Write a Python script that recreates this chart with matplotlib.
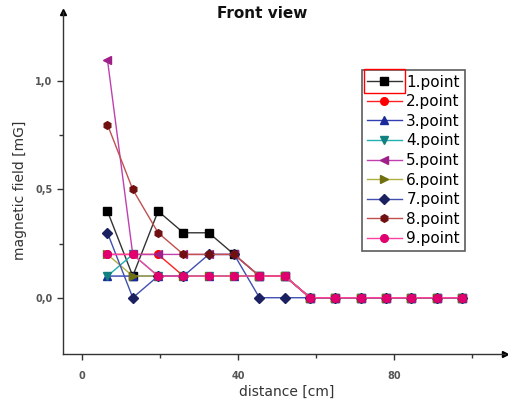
import matplotlib
matplotlib.use("Agg")
import matplotlib.pyplot as plt
from matplotlib.patches import Rectangle

distance = [6.5, 13, 19.5, 26, 32.5, 39, 45.5, 52, 58.5, 65, 71.5, 78, 84.5, 91, 97.5]
labels = ["1.point", "2.point", "3.point", "4.point", "5.point",
          "6.point", "7.point", "8.point", "9.point"]
p1 = [0.4, 0.1, 0.4, 0.3, 0.3, 0.2, 0.1, 0.1, 0, 0, 0, 0, 0, 0, 0]
p2 = [0.2, 0.2, 0.2, 0.1, 0.1, 0.1, 0.1, 0.1, 0, 0, 0, 0, 0, 0, 0]
p3 = [0.1, 0.1, 0.1, 0.1, 0.1, 0.1, 0.1, 0.1, 0, 0, 0, 0, 0, 0, 0]
p4 = [0.1, 0.2, 0.1, 0.1, 0.1, 0.1, 0.1, 0.1, 0, 0, 0, 0, 0, 0, 0]
p5 = [1.1, 0.2, 0.2, 0.2, 0.2, 0.2, 0.1, 0.1, 0, 0, 0, 0, 0, 0, 0]
p6 = [0.2, 0.1, 0.1, 0.1, 0.1, 0.1, 0.1, 0.1, 0, 0, 0, 0, 0, 0, 0]
p7 = [0.3, 0.0, 0.1, 0.1, 0.2, 0.2, 0, 0, 0, 0, 0, 0, 0, 0, 0]
p8 = [0.8, 0.5, 0.3, 0.2, 0.2, 0.2, 0.1, 0.1, 0, 0, 0, 0, 0, 0, 0]
p9 = [0.2, 0.2, 0.1, 0.1, 0.1, 0.1, 0.1, 0.1, 0, 0, 0, 0, 0, 0, 0]
series = [p1, p2, p3, p4, p5, p6, p7, p8, p9]

line_colors = ["#333333", "#ff2020", "#3040b0", "#20b0b0", "#c040b0",
               "#b0b040", "#4050b0", "#c05050", "#ff40a0"]
marker_colors = ["#000000", "#ff0000", "#1a2a9a", "#108080", "#a0208a",
                 "#707010", "#1a2060", "#701010", "#e0006e"]
markers = ["s", "o", "^", "v", "<", ">", "D", "h", "o"]

fig = plt.figure(figsize=(5.08, 4.04), dpi=100)
ax = fig.add_axes([63/508, 1-354/404, (505-63)/508, (354-12)/404])

for vals, lab, lc, mc, mk in zip(series, labels, line_colors, marker_colors, markers):
    ms = 5.5 if mk != "D" else 4.7
    ax.plot(distance, vals, color=lc, lw=1.0, marker=mk, markersize=ms,
            markerfacecolor=mc, markeredgecolor=mc, label=lab)

ax.set_xlim(-4.9, 108.5)
ax.set_ylim(-0.26, 1.32)
ax.spines["top"].set_visible(False)
ax.spines["right"].set_visible(False)
for s in ("left", "bottom"):
    ax.spines[s].set_color("#333333")
    ax.spines[s].set_linewidth(1.0)

ax.plot([0], [1], marker="^", color="black", markersize=5, transform=ax.transAxes, clip_on=False)
ax.plot([1], [0], marker=">", color="black", markersize=5, transform=ax.transAxes, clip_on=False)

ax.set_xticks([0, 40, 80])
ax.set_xticks([20, 60, 100], minor=True)
ax.set_yticks([0.0, 0.5, 1.0])
ax.set_yticklabels(["0,0", "0,5", "1,0"])
ax.set_yticks([0.25, 0.75], minor=True)
ax.tick_params(axis="both", which="major", labelsize=7, length=4, width=1,
               colors="#333333", labelcolor="#555555")
ax.tick_params(axis="both", which="minor", length=3, width=1, colors="#333333")
for t in ax.get_xticklabels() + ax.get_yticklabels():
    t.set_fontweight("bold")
ax.tick_params(axis="x", pad=8)

fig.text(262/508, 1-14/404, "Front view", ha="center", va="center",
         fontsize=11, fontweight="bold", color="#111111")
fig.text(287/508, 1-392/404, "distance [cm]", ha="center", va="center",
         fontsize=10, color="#333333")
fig.text(20/508, 1-190/404, "magnetic field [mG]", ha="center", va="center",
         rotation=90, fontsize=10, color="#333333")

leg = ax.legend(loc="upper left", bbox_to_anchor=((362-63)/(505-63), 1-(70-12)/(354-12)),
                fontsize=11, frameon=True, fancybox=False, edgecolor="#333333",
                borderpad=0.3, labelspacing=0.3, handlelength=2.3,
                handletextpad=0.3, borderaxespad=0)
leg.get_frame().set_linewidth(1.2)

fig.canvas.draw()
h0 = leg.legend_handles[0]
bb = h0.get_window_extent(fig.canvas.get_renderer())
inv = fig.transFigure.inverted()
(x0, y0), (x1, y1) = inv.transform([(bb.x0 + 1, bb.y0 - 8), (bb.x1 - 1, bb.y1 + 8)])
fig.add_artist(Rectangle((x0, y0), x1 - x0, y1 - y0, transform=fig.transFigure,
                         fill=False, edgecolor="red", lw=1.0, zorder=10))

fig.savefig("out.png", dpi=100)
